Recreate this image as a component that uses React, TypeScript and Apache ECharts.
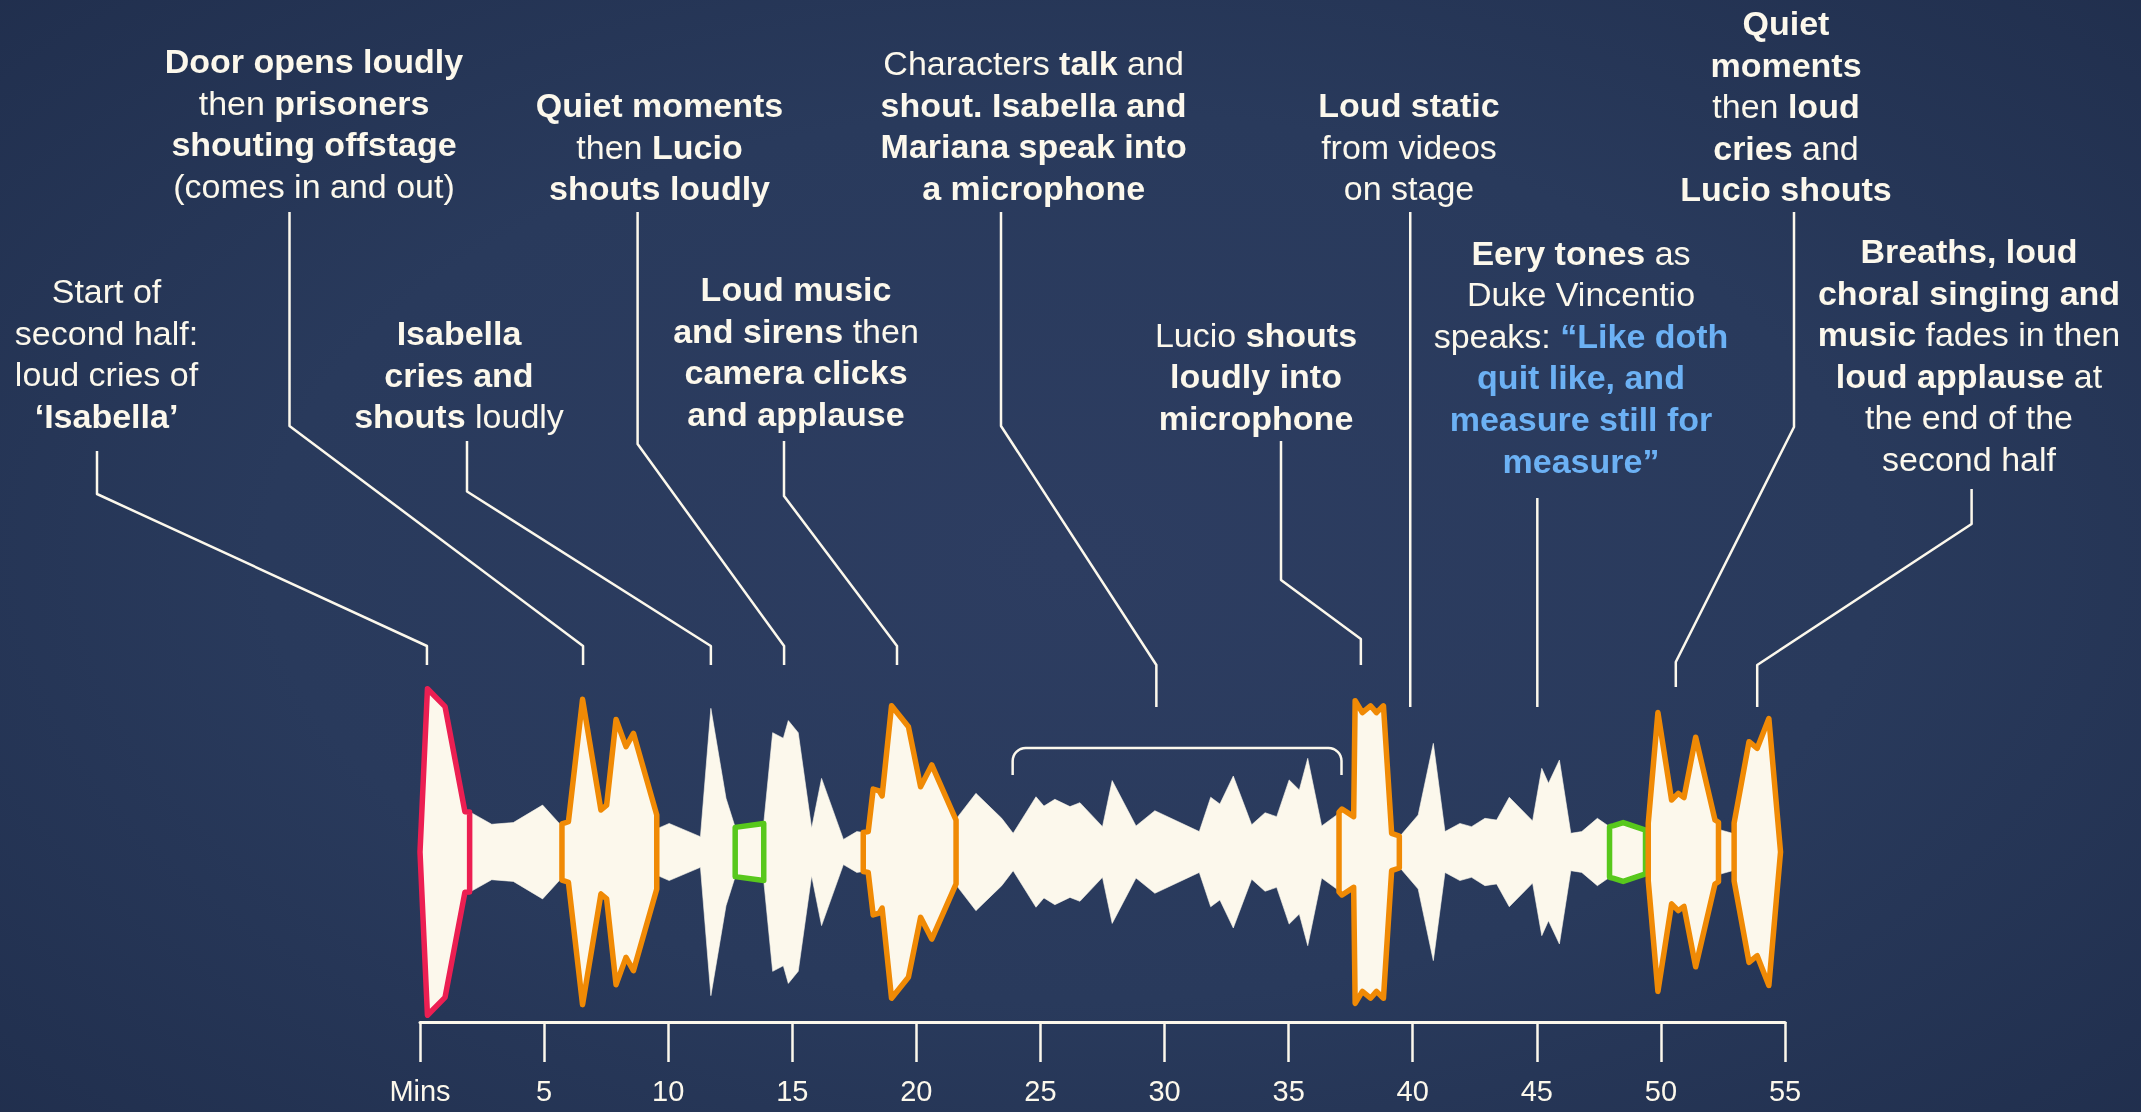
import React, { useEffect, useRef } from "react";
import * as echarts from "echarts";

// ---------- data ----------
const TICK_VALUES = [0, 5, 10, 15, 20, 25, 30, 35, 40, 45, 50, 55];
const TICK_LABELS = ["Mins", "5", "10", "15", "20", "25", "30", "35", "40", "45", "50", "55"];

// time (minutes) and loudness (half-amplitude, 0..100)
const WAVE_MIN = [
  0, 0.3, 1.01, 1.81, 2.0, 2.08, 2.89, 3.76, 4.94, 5.67,
  5.72, 5.98, 6.55, 7.29, 7.52, 7.9, 8.3, 8.6, 9.54, 9.6,
  10.04, 11.3, 11.72, 12.33, 12.7, 13.85, 14.21, 14.64, 14.84, 15.24,
  15.78, 16.18, 17.06, 17.6, 17.86, 18.06, 18.26, 18.5, 18.62, 19.0,
  19.68, 20.17, 20.62, 21.6, 21.66, 22.4, 23.44, 23.9, 24.82, 25.14,
  25.58, 26.19, 26.59, 27.5, 27.89, 28.85, 29.61, 31.4, 31.86, 32.23,
  32.77, 33.51, 34.05, 34.52, 35.02, 35.43, 35.77, 36.33, 36.94, 37.03,
  37.15, 37.62, 37.68, 37.97, 38.3, 38.54, 38.82, 39.15, 39.46, 39.5,
  40.22, 40.83, 41.3, 41.9, 42.37, 42.91, 43.38, 43.89, 44.83, 45.2,
  45.47, 45.91, 46.37, 46.81, 47.44, 47.93, 48.1, 48.48, 49.38, 49.49,
  49.88, 50.43, 50.7, 50.93, 51.4, 52.18, 52.32, 52.4, 52.88, 52.95,
  53.55, 53.88, 54.35, 54.82,
];
const WAVE_AMP = [
  0, 96, 85.5, 23.7, 23.5, 23, 16.3, 17.3, 27.6, 15.9,
  16.5, 17.8, 89.8, 24.7, 27.6, 78, 62, 69.8, 21.8, 14,
  16.8, 9, 84.5, 31.6, 14.5, 16.8, 70.2, 66.9, 77.3, 70.2,
  13.9, 43.3, 7.4, 12, 11.5, 12, 37, 36, 33, 86,
  73.7, 38.4, 51.2, 18.8, 20.5, 34.5, 19.8, 11, 32.5, 27,
  31, 26.7, 29, 14.9, 42, 15.3, 24.3, 12, 32.2, 28.2,
  44.7, 16, 23.1, 20.8, 42.4, 36.5, 55.1, 15.3, 21.8, 23.5,
  25.3, 20.8, 89, 82, 86, 82, 86, 11, 9.4, 9.5,
  21.8, 63.9, 12, 16.8, 14.9, 19.8, 18.8, 32.2, 18.3, 49.2,
  40.4, 54.1, 11, 12, 19.8, 14.9, 15.5, 17.3, 12.9, 16.9,
  82, 30.6, 34.5, 32, 67.5, 18.8, 17.5, 13, 11, 17,
  64.9, 61, 78.5, 0,
];

// highlighted passages: start minute, end minute, kind
const SEG_START = [0, 5.72, 12.7, 17.86, 37.03, 47.93, 49.49, 52.95];
const SEG_END = [2.0, 9.54, 13.85, 21.6, 39.46, 49.38, 52.32, 54.82];
const SEG_KIND = [0, 1, 2, 1, 1, 2, 1, 1];

// bracket over the dialogue passage (minutes)
const BRACKET = [23.88, 37.13];

// annotations: anchor minute and text lines; n normal, b bold, q quote (blue bold)
type Frag = [string, "n" | "b" | "q"];
const NOTE_ANCHOR = [0.28, 6.57, 11.72, 14.67, 19.22, 29.67, 37.91, 39.9, 45.02, 50.6, 53.88];
const NOTE_TEXT: Frag[][][] = [
  [[["Start of", "n"]], [["second half:", "n"]], [["loud cries of", "n"]], [["‘Isabella’", "b"]]],
  [[["Door opens loudly", "b"]], [["then ", "n"], ["prisoners", "b"]], [["shouting offstage", "b"]], [["(comes in and out)", "n"]]],
  [[["Isabella", "b"]], [["cries and", "b"]], [["shouts", "b"], [" loudly", "n"]]],
  [[["Quiet moments", "b"]], [["then ", "n"], ["Lucio", "b"]], [["shouts loudly", "b"]]],
  [[["Loud music", "b"]], [["and sirens", "b"], [" then", "n"]], [["camera clicks", "b"]], [["and applause", "b"]]],
  [[["Characters ", "n"], ["talk", "b"], [" and", "n"]], [["shout. Isabella and", "b"]], [["Mariana speak into", "b"]], [["a microphone", "b"]]],
  [[["Lucio ", "n"], ["shouts", "b"]], [["loudly into", "b"]], [["microphone", "b"]]],
  [[["Loud static", "b"]], [["from videos", "n"]], [["on stage", "n"]]],
  [[["Eery tones", "b"], [" as", "n"]], [["Duke Vincentio", "n"]], [["speaks: ", "n"], ["“Like doth", "q"]], [["quit like, and", "q"]], [["measure still for", "q"]], [["measure”", "q"]]],
  [[["Quiet", "b"]], [["moments", "b"]], [["then ", "n"], ["loud", "b"]], [["cries", "b"], [" and", "n"]], [["Lucio shouts", "b"]]],
  [[["Breaths, loud", "b"]], [["choral singing and", "b"]], [["music", "b"], [" fades in then", "n"]], [["loud applause", "b"], [" at", "n"]], [["the end of the", "n"]], [["second half", "n"]]],
];

// ---------- layout (pixels) ----------
const W = 2141;
const H = 1112;
const CREAM = "#fcf8ec";
const SEG_COLORS = ["#ec1f52", "#f08a05", "#58c81c"];
const BLUE = "#6cb1f4";
const FONT = "'Liberation Sans', Arial, Helvetica, sans-serif";
const FS = 34;
const LH = 41.6;
// text centre x, first line centre y
const NOTE_POS: [number, number][] = [
  [106.5, 291], [314, 61], [459, 333], [659.5, 105], [796, 289], [1033.6, 63],
  [1256, 334.5], [1409, 105], [1581, 252.6], [1786, 23], [1969, 251],
];
// leader: points before the anchor column, then elbow y and end y at the anchor column
const NOTE_LEADER: { pts: [number, number][]; elbow: number; end: number }[] = [
  { pts: [[97, 451], [97, 494]], elbow: 646, end: 665 },
  { pts: [[289.5, 212], [289.5, 426]], elbow: 646, end: 665 },
  { pts: [[467, 441], [467, 491.5]], elbow: 646, end: 665 },
  { pts: [[637.6, 212], [637.6, 444]], elbow: 646, end: 665 },
  { pts: [[784, 441], [784, 496]], elbow: 646, end: 665 },
  { pts: [[1001, 212], [1001, 426]], elbow: 665, end: 707 },
  { pts: [[1281, 441], [1281, 580]], elbow: 639, end: 665 },
  { pts: [], elbow: 212, end: 707 },
  { pts: [], elbow: 498, end: 707 },
  { pts: [[1794, 212], [1794, 427]], elbow: 662, end: 687 },
  { pts: [[1971.6, 489], [1971.6, 524]], elbow: 665, end: 707 },
];
const BRACKET_TOP = 748;
const BRACKET_BOTTOM = 775;
const BRACKET_R = 13;

function polygonPoints(api: any, s: number, e: number) {
  const top: number[][] = [];
  const bot: number[][] = [];
  for (let i = 0; i < WAVE_MIN.length; i++) {
    const m = WAVE_MIN[i];
    if (m >= s - 1e-9 && m <= e + 1e-9) {
      top.push(api.coord([m, WAVE_AMP[i]]));
      bot.push(api.coord([m, -WAVE_AMP[i]]));
    }
  }
  return top.concat(bot.reverse());
}

function richLine(frags: Frag[]) {
  return frags.map(([t, k]) => `{${k}|${t}}`).join("");
}

const RICH = {
  n: { fontFamily: FONT, fontSize: FS, fontWeight: 400, fill: CREAM },
  b: { fontFamily: FONT, fontSize: FS, fontWeight: 700, fill: CREAM },
  q: { fontFamily: FONT, fontSize: FS, fontWeight: 700, fill: BLUE },
};

export default function App() {
  const ref = useRef<HTMLDivElement>(null);

  useEffect(() => {
    if (!ref.current) return;
    const chart = echarts.init(ref.current, undefined, { renderer: "svg" });
    chart.setOption({
      animation: false,
      backgroundColor: "transparent",
      grid: { left: 420, right: W - 1785, top: 682, bottom: H - 1022, outerBoundsMode: "none" },
      xAxis: {
        type: "value",
        min: 0,
        max: 55,
        interval: 5,
        axisLine: { show: true, onZero: false, lineStyle: { color: CREAM, width: 3 } },
        axisTick: { show: true, length: 40, lineStyle: { color: CREAM, width: 2.5 } },
        axisLabel: {
          color: CREAM,
          fontSize: 29,
          fontFamily: FONT,
          margin: 54,
          showMaxLabel: true,
          showMinLabel: true,
          formatter: (v: number) => {
            const i = TICK_VALUES.indexOf(v);
            return i >= 0 ? TICK_LABELS[i] : "";
          },
        },
        splitLine: { show: false },
      },
      yAxis: { type: "value", min: -100, max: 100, show: false },
      series: [
        {
          type: "custom",
          name: "waveform",
          clip: false,
          data: [[WAVE_MIN[0], WAVE_MIN[WAVE_MIN.length - 1], 0]],
          encode: { x: [0, 1], y: 2 },
          renderItem: (params: any, api: any) => ({
            type: "polygon",
            shape: { points: polygonPoints(api, api.value(0), api.value(1)) },
            style: { fill: CREAM, stroke: CREAM, lineWidth: 0.6 },
          }),
        },
        {
          type: "custom",
          name: "highlights",
          clip: false,
          data: SEG_START.map((s, i) => [s, SEG_END[i], 0, SEG_KIND[i]]),
          encode: { x: [0, 1], y: 2 },
          renderItem: (params: any, api: any) => ({
            type: "polygon",
            shape: { points: polygonPoints(api, api.value(0), api.value(1)) },
            style: {
              fill: CREAM,
              stroke: SEG_COLORS[api.value(3)],
              lineWidth: 5.5,
              lineJoin: "round",
            },
          }),
        },
      ],
    });

    const px = (m: number) => chart.convertToPixel({ xAxisIndex: 0 }, m) as number;
    const graphics: any[] = [];

    // bracket
    const x1 = px(BRACKET[0]);
    const x2 = px(BRACKET[1]);
    const bpts: number[][] = [[x1, BRACKET_BOTTOM]];
    for (let k = 0; k <= 8; k++) {
      const a = Math.PI - (k / 8) * (Math.PI / 2);
      bpts.push([x1 + BRACKET_R + BRACKET_R * Math.cos(a), BRACKET_TOP + BRACKET_R - BRACKET_R * Math.sin(a)]);
    }
    for (let k = 0; k <= 8; k++) {
      const a = Math.PI / 2 - (k / 8) * (Math.PI / 2);
      bpts.push([x2 - BRACKET_R + BRACKET_R * Math.cos(a), BRACKET_TOP + BRACKET_R - BRACKET_R * Math.sin(a)]);
    }
    bpts.push([x2, BRACKET_BOTTOM]);
    graphics.push({
      type: "polyline",
      shape: { points: bpts },
      style: { stroke: CREAM, lineWidth: 2.5, fill: "none" },
      silent: true,
    });

    // leaders and texts
    NOTE_TEXT.forEach((lines, i) => {
      const ax = px(NOTE_ANCHOR[i]);
      const L = NOTE_LEADER[i];
      const pts = [...L.pts, [ax, L.elbow], [ax, L.end]];
      graphics.push({
        type: "polyline",
        shape: { points: pts },
        style: { stroke: CREAM, lineWidth: 2.5, fill: "none", lineJoin: "round" },
        silent: true,
      });
      const [cx, cy] = NOTE_POS[i];
      lines.forEach((frags, j) => {
        graphics.push({
          type: "text",
          x: cx,
          y: cy + j * LH,
          silent: true,
          style: {
            text: richLine(frags),
            rich: RICH,
            align: "center",
            verticalAlign: "middle",
            fill: CREAM,
            fontFamily: FONT,
            fontSize: FS,
          },
        });
      });
    });

    chart.setOption({ graphic: graphics });

    return () => chart.dispose();
  }, []);

  return (
    <div
      style={{
        position: "fixed",
        left: 0,
        top: 0,
        width: W,
        height: H,
        background:
          "radial-gradient(ellipse 75% 80% at 50% 50%, #2d3d61 0%, #293a5c 50%, #1f2d4b 100%)",
      }}
    >
      <div ref={ref} style={{ width: W, height: H }} />
    </div>
  );
}
